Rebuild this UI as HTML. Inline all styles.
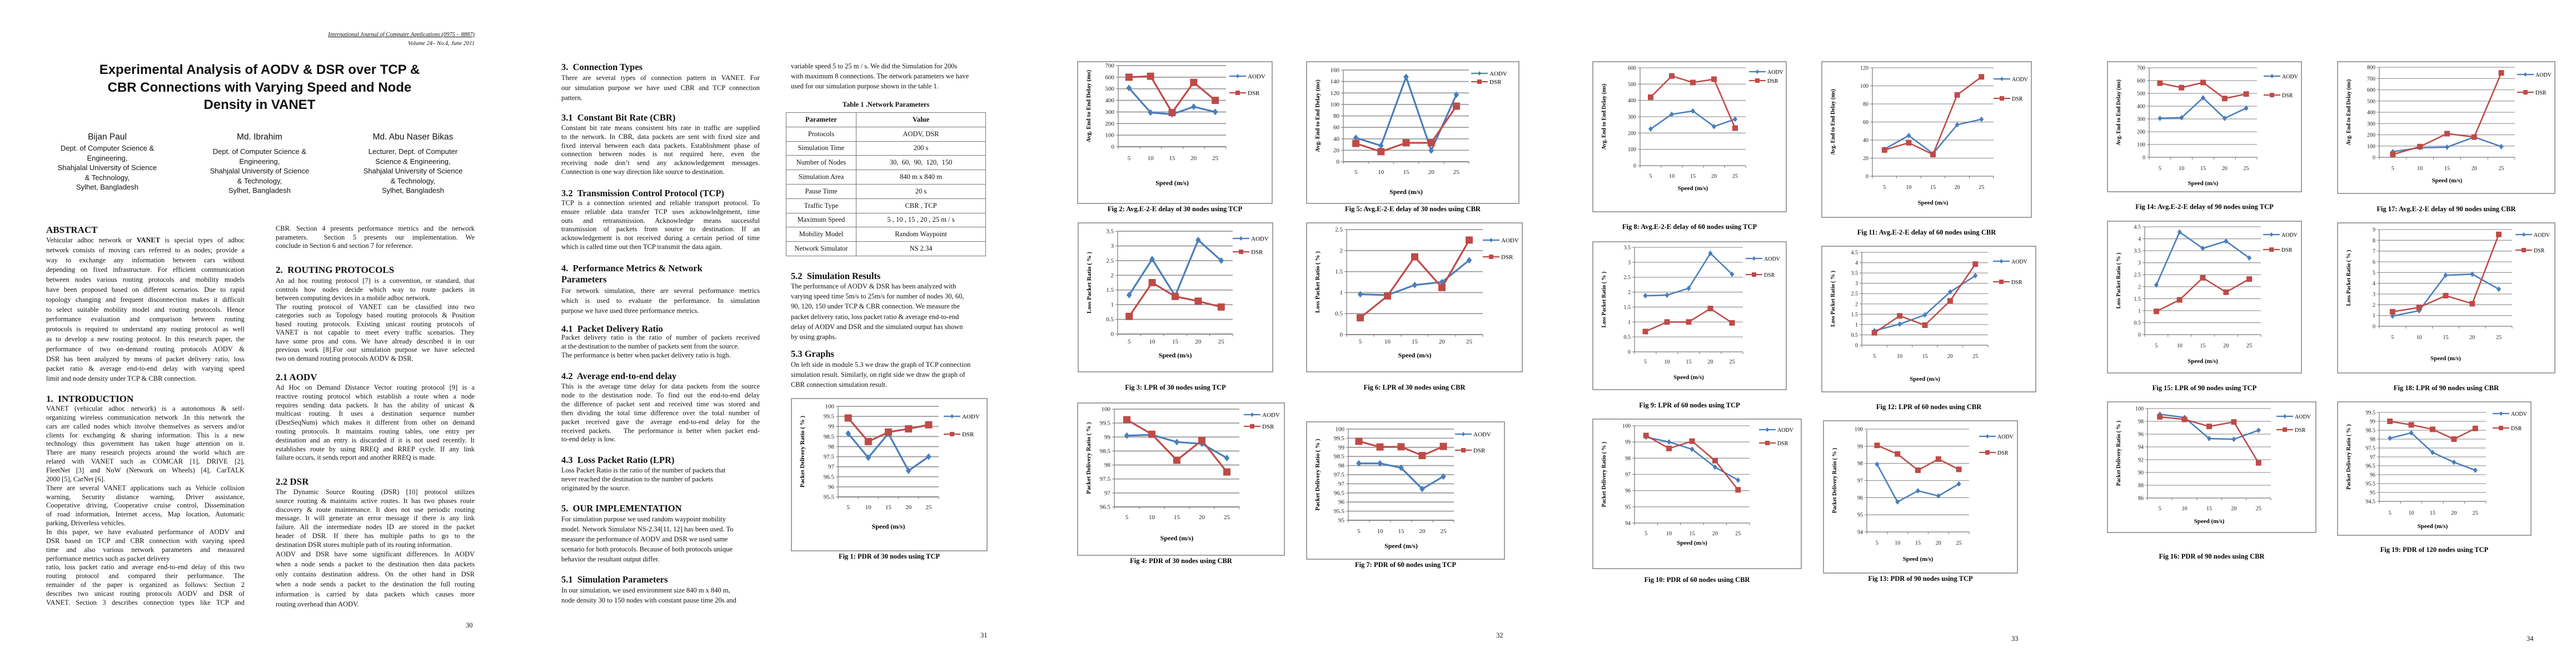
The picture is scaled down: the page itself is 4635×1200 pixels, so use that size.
<!DOCTYPE html>
<html><head><meta charset="utf-8">
<style>
body{margin:0;width:4635px;height:1200px;background:#fff;position:relative;overflow:hidden;font-family:"Liberation Serif",serif;color:#111}
.a{position:absolute;white-space:nowrap}
.blk{position:absolute;font-size:12.5px;white-space:nowrap}
.blk div{text-align:justify;text-align-last:justify;overflow:visible}
.blk div.l{text-align-last:left}
.h{position:absolute;white-space:nowrap;font-weight:bold;font-size:16.5px;line-height:20px}
.sans{font-family:"Liberation Sans",sans-serif}
.ttl{position:absolute;left:87px;width:760px;text-align:center;font:bold 24px "Liberation Sans",sans-serif;line-height:31.5px}
.auth{position:absolute;width:280px;text-align:center;font-family:"Liberation Sans",sans-serif;font-size:13px;line-height:17.6px}
.auth .n{font-size:15.5px;line-height:22px}
table.np{border-collapse:collapse;font-size:12.5px}
table.np td{border:1.2px solid #777;text-align:center;height:24.8px;padding:0}
</style></head>
<body>
<!-- PAGE 1 -->
<div class="a" style="left:480px;top:55px;width:374px;text-align:right;font:italic 10.5px 'Liberation Serif',serif;line-height:16px"><span style="text-decoration:underline">International Journal of Computer Applications (0975 – 8887)</span><br>Volume 24– No.4, June 2011</div>
<div class="ttl" style="top:110px">Experimental Analysis of AODV &amp; DSR over TCP &amp;<br>CBR Connections with Varying Speed and Node<br>Density in VANET</div>
<div class="auth" style="left:53px;top:236px"><div class="n">Bijan Paul</div>Dept. of Computer Science &amp;<br>Engineering,<br>Shahjalal University of Science<br>&amp; Technology,<br>Sylhet, Bangladesh</div>
<div class="auth" style="left:327px;top:236px"><div class="n" style="margin-bottom:6px">Md. Ibrahim</div>Dept. of Computer Science &amp;<br>Engineering,<br>Shahjalal University of Science<br>&amp; Technology,<br>Sylhet, Bangladesh</div>
<div class="auth" style="left:603px;top:236px"><div class="n" style="margin-bottom:6px">Md. Abu Naser Bikas</div>Lecturer, Dept. of Computer<br>Science &amp; Engineering,<br>Shahjalal University of Science<br>&amp; Technology,<br>Sylhet, Bangladesh</div>

<div class="h" style="left:83px;top:404px;font-size:17px">ABSTRACT</div>
<div class="blk" style="left:83px;top:424px;width:357px;line-height:17.8px">
<div>Vehicular adhoc network or <b>VANET</b> is special types of adhoc</div>
<div>network consists of moving cars referred to as nodes; provide a</div>
<div>way to exchange any information between cars without</div>
<div>depending on fixed infrastructure. For efficient communication</div>
<div>between nodes various routing protocols and mobility models</div>
<div>have been proposed based on different scenarios. Due to rapid</div>
<div>topology changing and frequent disconnection makes it difficult</div>
<div>to select suitable mobility model and routing protocols. Hence</div>
<div>performance evaluation and comparison between routing</div>
<div>protocols is required to understand any routing protocol as well</div>
<div>as to develop a new routing protocol. In this research paper, the</div>
<div>performance of two on-demand routing protocols AODV &amp;</div>
<div>DSR has been analyzed by means of packet delivery ratio, loss</div>
<div>packet ratio &amp; average end-to-end delay with varying speed</div>
<div class="l">limit and node density under TCP &amp; CBR connection.</div>
</div>
<div class="h" style="left:83px;top:708px;font-size:17px">1.&nbsp; INTRODUCTION</div>
<div class="blk" style="left:83px;top:728px;width:357px;line-height:15.86px">
<div>VANET (vehicular adhoc network) is a autonomous &amp; self-</div>
<div>organizing wireless communication network .In this network the</div>
<div>cars are called nodes which involve themselves as servers and/or</div>
<div>clients for exchanging &amp; sharing information. This is a new</div>
<div>technology thus government has taken huge attention on it.</div>
<div>There are many research projects around the world which are</div>
<div>related with VANET such as COMCAR [1], DRIVE [2],</div>
<div>FleetNet [3] and NoW (Network on Wheels) [4], CarTALK</div>
<div class="l">2000 [5], CarNet [6].</div>
<div>There are several VANET applications such as Vehicle collision</div>
<div>warning, Security distance warning, Driver assistance,</div>
<div>Cooperative driving, Cooperative cruise control, Dissemination</div>
<div>of road information, Internet access, Map location, Automatic</div>
<div class="l">parking, Driverless vehicles.</div>
<div>In this paper, we have evaluated performance of AODV and</div>
<div>DSR based on TCP and CBR connection with varying speed</div>
<div>time and also various network parameters and measured</div>
<div class="l">performance metrics such as packet delivery</div>
<div>ratio, loss packet ratio and average end-to-end delay of this two</div>
<div>routing protocol and compared their performance. The</div>
<div>remainder of the paper is organized as follows: Section 2</div>
<div>describes two unicast routing protocols AODV and DSR of</div>
<div>VANET. Section 3 describes connection types like TCP and</div>
</div>
<div class="blk" style="left:496px;top:404px;width:358px;line-height:15.7px">
<div>CBR. Section 4 presents performance metrics and the network</div>
<div>parameters.&nbsp; Section 5 presents our implementation. We</div>
<div class="l">conclude in Section 6 and section 7 for reference.</div>
</div>
<div class="h" style="left:496px;top:476px;font-size:17px">2.&nbsp; ROUTING PROTOCOLS</div>
<div class="blk" style="left:496px;top:498px;width:358px;line-height:15.5px">
<div>An ad hoc routing protocol [7] is a convention, or standard, that</div>
<div>controls how nodes decide which way to route packets in</div>
<div class="l">between computing devices in a mobile adhoc network.</div>
<div>The routing protocol of VANET can be classified into two</div>
<div>categories such as Topology based routing protocols &amp; Position</div>
<div>based routing protocols. Existing unicast routing protocols of</div>
<div>VANET is not capable to meet every traffic scenarios. They</div>
<div>have some pros and cons. We have already described it in our</div>
<div>previous work [8].For our simulation purpose we have selected</div>
<div class="l">two on demand routing protocols AODV &amp; DSR.</div>
</div>
<div class="h" style="left:496px;top:669px;font-size:17px">2.1 AODV</div>
<div class="blk" style="left:496px;top:690px;width:358px;line-height:15.8px">
<div>Ad Hoc on Demand Distance Vector routing protocol [9] is a</div>
<div>reactive routing protocol which establish a route when a node</div>
<div>requires sending data packets. It has the ability of unicast &amp;</div>
<div>multicast routing. It uses a destination sequence number</div>
<div>(DestSeqNum) which makes it different from other on demand</div>
<div>routing protocols. It maintains routing tables, one entry per</div>
<div>destination and an entry is discarded if it is not used recently. It</div>
<div>establishes route by using RREQ and RREP cycle. If any link</div>
<div class="l">failure occurs, it sends report and another RREQ is made.</div>
</div>
<div class="h" style="left:496px;top:857px;font-size:17px">2.2 DSR</div>
<div class="blk" style="left:496px;top:878px;width:358px;line-height:15.8px">
<div>The Dynamic Source Routing (DSR) [10] protocol utilizes</div>
<div>source routing &amp; maintains active routes. It has two phases route</div>
<div>discovery &amp; route maintenance. It does not use periodic routing</div>
<div>message. It will generate an error message if there is any link</div>
<div>failure. All the intermediate nodes ID are stored in the packet</div>
<div>header of DSR. If there has multiple paths to go to the</div>
<div class="l">destination DSR stores multiple path of its routing information.</div>
</div>
<div class="blk" style="left:496px;top:988px;width:358px;line-height:18.1px">
<div>AODV and DSR have some significant differences. In AODV</div>
<div>when a node sends a packet to the destination then data packets</div>
<div>only contains destination address. On the other hand in DSR</div>
<div>when a node sends a packet to the destination the full routing</div>
<div>information is carried by data packets which causes more</div>
<div class="l">routing overhead than AODV.</div>
</div>
<div class="a" style="left:838px;top:1118px;font-size:12.5px">30</div>

<!-- PAGE 2 -->
<div class="h" style="left:1010px;top:111px">3.&nbsp; Connection Types</div>
<div class="blk" style="left:1010px;top:131px;width:357px;line-height:18px">
<div>There are several types of connection pattern in VANET. For</div>
<div>our simulation purpose we have used CBR and TCP connection</div>
<div class="l">pattern.</div>
</div>
<div class="h" style="left:1010px;top:202px">3.1&nbsp; Constant Bit Rate (CBR)</div>
<div class="blk" style="left:1010px;top:223px;width:357px;line-height:15.8px">
<div>Constant bit rate means consistent bits rate in traffic are supplied</div>
<div>to the network. In CBR, data packets are sent with fixed size and</div>
<div>fixed interval between each data packets. Establishment phase of</div>
<div>connection between nodes is not required here, even the</div>
<div>receiving node don’t send any acknowledgement messages.</div>
<div class="l">Connection is one way direction like source to destination.</div>
</div>
<div class="h" style="left:1010px;top:338px">3.2&nbsp; Transmission Control Protocol (TCP)</div>
<div class="blk" style="left:1010px;top:358px;width:357px;line-height:15.8px">
<div>TCP is a connection oriented and reliable transport protocol. To</div>
<div>ensure reliable data transfer TCP uses acknowledgement, time</div>
<div>outs and retransmission. Acknowledge means successful</div>
<div>transmission of packets from source to destination. If an</div>
<div>acknowledgement is not received during a certain period of time</div>
<div class="l">which is called time out then TCP transmit the data again.</div>
</div>
<div class="h" style="left:1010px;top:473px">4.&nbsp; Performance Metrics &amp; Network<br>Parameters</div>
<div class="blk" style="left:1010px;top:514px;width:357px;line-height:18px">
<div>For network simulation, there are several performance metrics</div>
<div>which is used to evaluate the performance. In simulation</div>
<div class="l">purpose we have used three performance metrics.</div>
</div>
<div class="h" style="left:1010px;top:582px">4.1&nbsp; Packet Delivery Ratio</div>
<div class="blk" style="left:1010px;top:599px;width:357px;line-height:16px">
<div>Packet delivery ratio is the ratio of number of packets received</div>
<div class="l">at the destination to the number of packets sent from the source.</div>
<div class="l">The performance is better when packet delivery ratio is high.</div>
</div>
<div class="h" style="left:1010px;top:667px">4.2&nbsp; Average end-to-end delay</div>
<div class="blk" style="left:1010px;top:688px;width:357px;line-height:15.9px">
<div>This is the average time delay for data packets from the source</div>
<div>node to the destination node. To find out the end-to-end delay</div>
<div>the difference of packet sent and received time was stored and</div>
<div>then dividing the total time difference over the total number of</div>
<div>packet received gave the average end-to-end delay for the</div>
<div>received packets.&nbsp;&nbsp; The performance is better when packet end-</div>
<div class="l">to-end delay is low.</div>
</div>
<div class="h" style="left:1010px;top:818px">4.3&nbsp; Loss Packet Ratio (LPR)</div>
<div class="blk" style="left:1010px;top:838px;width:357px;line-height:16px">
<div class="l">Loss Packet Ratio is the ratio of the number of packets that</div>
<div class="l">never reached the destination to the number of packets</div>
<div class="l">originated by the source.</div>
</div>
<div class="h" style="left:1010px;top:905px">5.&nbsp; OUR IMPLEMENTATION</div>
<div class="blk" style="left:1010px;top:925px;width:357px;line-height:18px">
<div class="l">For simulation purpose we used random waypoint mobility</div>
<div class="l">model. Network Simulator NS-2.34[11, 12] has been used. To</div>
<div class="l">measure the performance of AODV and DSR we used same</div>
<div class="l">scenario for both protocols. Because of both protocols unique</div>
<div class="l">behavior the resultant output differ.</div>
</div>
<div class="h" style="left:1010px;top:1033px">5.1&nbsp; Simulation Parameters</div>
<div class="blk" style="left:1010px;top:1053px;width:357px;line-height:18px">
<div class="l">In our simulation, we used environment size 840 m x 840 m,</div>
<div class="l">node density 30 to 150 nodes with constant pause time 20s and</div>
</div>
<div class="blk" style="left:1423px;top:110px;width:358px;line-height:18px">
<div class="l">variable speed 5 to 25 m / s. We did the Simulation for 200s</div>
<div class="l">with maximum 8 connections. The network parameters we have</div>
<div class="l">used for our simulation purpose shown in the table 1.</div>
</div>
<div class="a" style="left:1414px;width:360px;top:181px;text-align:center;font-weight:bold;font-size:12.5px">Table 1 .Network Parameters</div>
<table class="np" style="position:absolute;left:1414px;top:202px;width:360px">
<tr><td style="width:125px;font-weight:bold">Parameter</td><td style="font-weight:bold">Value</td></tr>
<tr><td>Protocols</td><td>AODV, DSR</td></tr>
<tr><td>Simulation Time</td><td>200 s</td></tr>
<tr><td>Number of Nodes</td><td>30,&nbsp; 60,&nbsp; 90,&nbsp; 120,&nbsp; 150</td></tr>
<tr><td>Simulation Area</td><td>840 m x 840 m</td></tr>
<tr><td>Pause Time</td><td>20 s</td></tr>
<tr><td>Traffic Type</td><td>CBR , TCP</td></tr>
<tr><td>Maximum Speed</td><td>5 , 10 , 15 , 20 , 25 m / s</td></tr>
<tr><td>Mobility Model</td><td>Random Waypoint</td></tr>
<tr><td>Network Simulator</td><td>NS 2.34</td></tr>
</table>
<div class="h" style="left:1423px;top:487px">5.2&nbsp; Simulation Results</div>
<div class="blk" style="left:1423px;top:506px;width:358px;line-height:18.2px">
<div class="l">The performance of AODV &amp; DSR has been analyzed with</div>
<div class="l">varying speed time 5m/s to 25m/s for number of nodes 30, 60,</div>
<div class="l">90, 120, 150 under TCP &amp; CBR connection. We measure the</div>
<div class="l">packet delivery ratio, loss packet ratio &amp; average end-to-end</div>
<div class="l">delay of AODV and DSR and the simulated output has shown</div>
<div class="l">by using graphs.</div>
</div>
<div class="h" style="left:1423px;top:627px">5.3 Graphs</div>
<div class="blk" style="left:1423px;top:647px;width:358px;line-height:18px">
<div class="l">On left side in module 5.3 we draw the graph of TCP connection</div>
<div class="l">simulation result. Similarly, on right side we draw the graph of</div>
<div class="l">CBR connection simulation result.</div>
</div>
<div class="a" style="left:1764px;top:1136px;font-size:12.5px">31</div>
<div class="a" style="left:2692px;top:1136px;font-size:12.5px">32</div>
<div class="a" style="left:3619px;top:1142px;font-size:12.5px">33</div>
<div class="a" style="left:4546px;top:1142px;font-size:12.5px">34</div>

<svg id="charts" width="4635" height="1200" style="position:absolute;left:0;top:0" xmlns="http://www.w3.org/2000/svg"></svg>

<script>
// ---- chart data ----
const speeds = [5, 10, 15, 20, 25];
const fig1Aodv = [98.65, 97.45, 98.65, 96.8, 97.5];
const fig1Dsr = [99.42, 98.25, 98.72, 98.88, 99.08];
const fig1Range = [95.5, 100, 0.5];
const fig2Aodv = [507, 295, 280, 345, 300];
const fig2Dsr = [600, 608, 295, 555, 400];
const fig2Range = [0, 700, 100];
const fig3Aodv = [1.33, 2.55, 1.3, 3.2, 2.5];
const fig3Dsr = [0.6, 1.75, 1.28, 1.12, 0.92];
const fig3Range = [0, 3.5, 0.5];
const fig4Aodv = [99.05, 99.08, 98.82, 98.76, 98.25];
const fig4Dsr = [99.62, 99.1, 98.17, 98.88, 97.75];
const fig4Range = [96.5, 100, 0.5];
const fig5Aodv = [41.7, 28, 148, 19.5, 117];
const fig5Dsr = [32, 17.6, 33, 33, 97];
const fig5Range = [0, 160, 20];
const fig6Aodv = [0.96, 0.94, 1.18, 1.25, 1.77];
const fig6Dsr = [0.4, 0.92, 1.85, 1.12, 2.25];
const fig6Range = [0, 2.5, 0.5];
const fig7Aodv = [98.12, 98.12, 97.88, 96.72, 97.4];
const fig7Dsr = [99.33, 99.02, 99.03, 98.55, 99.05];
const fig7Range = [95, 100, 0.5];
const fig8Aodv = [225, 315, 335, 240, 285];
const fig8Dsr = [420, 550, 510, 530, 230];
const fig8Range = [0, 600, 100];
const fig9Aodv = [1.88, 1.9, 2.13, 3.3, 2.6];
const fig9Dsr = [0.68, 1.0, 1.0, 1.45, 0.97];
const fig9Range = [0, 3.5, 0.5];
const fig10Aodv = [99.3, 99.0, 98.55, 97.45, 96.65];
const fig10Dsr = [99.4, 98.6, 99.05, 97.85, 96.05];
const fig10Range = [94, 100, 1];
const fig11Aodv = [30, 45, 25, 57, 63];
const fig11Dsr = [29, 37, 24, 90, 110];
const fig11Range = [0, 120, 20];
const fig12Aodv = [0.7, 1.02, 1.47, 2.58, 3.37];
const fig12Dsr = [0.6, 1.42, 0.97, 2.15, 3.93];
const fig12Range = [0, 4.5, 0.5];
const fig13Aodv = [97.95, 95.75, 96.4, 96.1, 96.8];
const fig13Dsr = [99.05, 98.55, 97.6, 98.25, 97.65];
const fig13Range = [94, 100, 1];
const fig14Aodv = [305, 310, 465, 305, 385];
const fig14Dsr = [580, 545, 585, 460, 495];
const fig14Range = [0, 700, 100];
const fig15Aodv = [2.07, 4.28, 3.6, 3.9, 3.2];
const fig15Dsr = [0.97, 1.45, 2.37, 1.77, 2.32];
const fig15Range = [0, 4.5, 0.5];
const fig16Aodv = [99.1, 98.6, 95.3, 95.2, 96.6];
const fig16Dsr = [98.7, 98.3, 97.2, 97.9, 91.5];
const fig16Range = [86, 100, 2];
const fig17Aodv = [50, 85, 90, 180, 95];
const fig17Dsr = [25, 95, 210, 180, 750];
const fig17Range = [0, 800, 100];
const fig18Aodv = [0.95, 1.45, 4.75, 4.85, 3.45];
const fig18Dsr = [1.35, 1.75, 2.85, 2.1, 8.55];
const fig18Range = [0, 9, 1];
const fig19Aodv = [98.05, 98.35, 97.25, 96.7, 96.25];
const fig19Dsr = [99.0, 98.8, 98.55, 98.0, 98.6];
const fig19Range = [94.5, 99.5, 0.5];

const DELAY = "Avg. End to End Delay (ms)";
const LPR = "Loss Packet Ratio ( % )";
const PDR = "Packet Delivery Ratio ( % )";

// ---- layout (positions only) ----
const figs = [
 {n:1, box:[1424,717,352,274], plot:[1508,731,1689,894], leg:[1698,749,781], xl:912, xt:947, cap:1001, yt:PDR, caption:"Fig 1: PDR of 30 nodes using TCP", a:fig1Aodv, d:fig1Dsr, r:fig1Range, big:1},
 {n:2, box:[1939,111,350,255], plot:[2012,118,2206,264], leg:[2212,137,167], xl:284, xt:329, cap:376, yt:DELAY, caption:"Fig 2: Avg.E-2-E delay of 30 nodes using TCP", a:fig2Aodv, d:fig2Dsr, r:fig2Range, big:1},
 {n:5, box:[2351,111,382,255], plot:[2417,126,2643,291], leg:[2647,132,147], xl:309, xt:345, cap:376, yt:DELAY, caption:"Fig 5: Avg.E-2-E delay of 30 nodes using CBR", a:fig5Aodv, d:fig5Dsr, r:fig5Range, big:1},
 {n:3, box:[1940,401,350,268], plot:[2011,416,2218,601], leg:[2218,429,453], xl:614, xt:639, cap:697, yt:LPR, caption:"Fig 3: LPR of 30 nodes using TCP", a:fig3Aodv, d:fig3Dsr, r:fig3Range, big:1},
 {n:6, box:[2351,401,388,268], plot:[2423,413,2668,602], leg:[2668,432,462], xl:614, xt:639, cap:697, yt:LPR, caption:"Fig 6: LPR of 30 nodes using CBR", a:fig6Aodv, d:fig6Dsr, r:fig6Range, big:1},
 {n:4, box:[1939,725,372,274], plot:[2005,736,2230,912], leg:[2238,746,767], xl:930, xt:968, cap:1009, yt:PDR, caption:"Fig 4: PDR of 30 nodes using CBR", a:fig4Aodv, d:fig4Dsr, r:fig4Range, big:1},
 {n:7, box:[2351,759,356,247], plot:[2426,772,2616,936], leg:[2618,781,810], xl:955, xt:982, cap:1016, yt:PDR, caption:"Fig 7: PDR of 60 nodes using TCP", a:fig7Aodv, d:fig7Dsr, r:fig7Range, big:1},
 {n:8, box:[2866,111,348,270], plot:[2951,122,3141,298], leg:[3147,129,145], xl:316, xt:338, cap:408, yt:DELAY, caption:"Fig 8: Avg.E-2-E delay of 60 nodes using TCP", a:fig8Aodv, d:fig8Dsr, r:fig8Range, big:0},
 {n:11, box:[3278,111,377,280], plot:[3369,122,3587,317], leg:[3587,142,177], xl:336, xt:364, cap:418, yt:DELAY, caption:"Fig 11: Avg.E-2-E delay of 60 nodes using CBR", a:fig11Aodv, d:fig11Dsr, r:fig11Range, big:0},
 {n:9, box:[2866,435,348,266], plot:[2941,445,3136,633], leg:[3141,465,494], xl:650, xt:678, cap:729, yt:LPR, caption:"Fig 9: LPR of 60 nodes using TCP", a:fig9Aodv, d:fig9Dsr, r:fig9Range, big:0},
 {n:12, box:[3278,443,385,262], plot:[3350,454,3577,621], leg:[3586,470,507], xl:640, xt:681, cap:732, yt:LPR, caption:"Fig 12: LPR of 60 nodes using CBR", a:fig12Aodv, d:fig12Dsr, r:fig12Range, big:0},
 {n:10, box:[2866,754,375,269], plot:[2941,766,3148,941], leg:[3165,773,797], xl:959, xt:976, cap:1043, yt:PDR, caption:"Fig 10: PDR of 60 nodes using CBR", a:fig10Aodv, d:fig10Dsr, r:fig10Range, big:0},
 {n:13, box:[3281,757,349,274], plot:[3359,772,3543,957], leg:[3561,785,814], xl:976, xt:1005, cap:1041, yt:PDR, caption:"Fig 13: PDR of 90 nodes using TCP", a:fig13Aodv, d:fig13Dsr, r:fig13Range, big:0},
 {n:14, box:[3792,111,349,234], plot:[3867,122,4061,283], leg:[4073,137,171], xl:302, xt:329, cap:372, yt:DELAY, caption:"Fig 14: Avg.E-2-E delay of 90 nodes using TCP", a:fig14Aodv, d:fig14Dsr, r:fig14Range, big:0},
 {n:17, box:[4206,111,391,237], plot:[4281,121,4525,283], leg:[4529,134,166], xl:302, xt:324, cap:376, yt:DELAY, caption:"Fig 17: Avg.E-2-E delay of 90 nodes using CBR", a:fig17Aodv, d:fig17Dsr, r:fig17Range, big:0},
 {n:15, box:[3792,398,349,273], plot:[3859,408,4068,602], leg:[4072,422,449], xl:621, xt:649, cap:698, yt:LPR, caption:"Fig 15: LPR of 90 nodes using TCP", a:fig15Aodv, d:fig15Dsr, r:fig15Range, big:0},
 {n:18, box:[4206,401,391,270], plot:[4281,413,4520,587], leg:[4526,422,450], xl:606, xt:644, cap:698, yt:LPR, caption:"Fig 18: LPR of 90 nodes using CBR", a:fig18Aodv, d:fig18Dsr, r:fig18Range, big:0},
 {n:16, box:[3792,723,375,235], plot:[3864,735,4086,896], leg:[4096,749,773], xl:914, xt:937, cap:1001, yt:PDR, caption:"Fig 16: PDR of 90 nodes using CBR", a:fig16Aodv, d:fig16Dsr, r:fig16Range, big:0},
 {n:19, box:[4206,723,348,240], plot:[4281,742,4473,902], leg:[4485,744,770], xl:922, xt:946, cap:989, yt:PDR, caption:"Fig 19: PDR of 120 nodes using TCP", a:fig19Aodv, d:fig19Dsr, r:fig19Range, big:0}
];

const NS = "http://www.w3.org/2000/svg";
const svg = document.getElementById('charts');
function mk(tag, attrs, parent) {
  const e = document.createElementNS(NS, tag);
  for (const k in attrs) e.setAttribute(k, attrs[k]);
  (parent || svg).appendChild(e);
  return e;
}
function fmt(v) { return String(Math.round(v * 100) / 100); }
function diamond(g, x, y, s, col) {
  return mk('polygon', {points: `${x},${y-s} ${x+s*0.8},${y} ${x},${y+s} ${x-s*0.8},${y}`, fill: col}, g);
}
function square(g, x, y, s, col) {
  return mk('rect', {x: x-s, y: y-s, width: 2*s, height: 2*s, fill: col}, g);
}
const BLUE = '#4a7ebb', RED = '#be4b48';

figs.forEach(f => {
  const g = mk('g', {});
  
  
  const [bx, by, bw, bh] = f.box;
  const [px1, py1, px2, py2] = f.plot;
  const [ymin, ymax, ystep] = f.r;
  const yS = v => py2 - (v - ymin) / (ymax - ymin) * (py2 - py1);
  const band = (px2 - px1) / speeds.length;
  const xS = i => px1 + band * (i + 0.5);
  const fs = f.big ? 11 : 10;
  const box = mk('rect', {x: bx, y: by, width: bw, height: bh, fill: '#fff', stroke: '#8a8a8a', 'stroke-width': 1.6}, g);
  
  
  // gridlines + y ticks
  const nT = Math.round((ymax - ymin) / ystep);
  for (let k = 0; k <= nT; k++) {
    const v = ymin + k * ystep, y = yS(v);
    const gl = mk('line', {x1: px1, x2: px2, y1: y, y2: y, stroke: k === 0 ? '#777' : '#9c9c9c', 'stroke-width': f.big ? 1.8 : 1.3}, g);
    
    
    mk('line', {x1: px1 - 4, x2: px1, y1: y, y2: y, stroke: '#777', 'stroke-width': 1}, g);
    const t = mk('text', {x: px1 - 7, y: y + 3.5, 'text-anchor': 'end', 'font-size': fs, 'font-family': 'Liberation Serif, serif', fill: '#222'}, g);
    t.textContent = fmt(v);
    
    
  }
  mk('line', {x1: px1, x2: px1, y1: py1, y2: py2, stroke: '#777', 'stroke-width': 1.2}, g);
  for (let i = 0; i <= speeds.length; i++) {
    mk('line', {x1: px1 + band * i, x2: px1 + band * i, y1: py2, y2: py2 + 4, stroke: '#777', 'stroke-width': 1}, g);
  }
  speeds.forEach((s, i) => {
    const t = mk('text', {x: xS(i), y: f.xl + 4, 'text-anchor': 'middle', 'font-size': fs, 'font-family': 'Liberation Serif, serif', fill: '#222'}, g);
    t.textContent = s;
    
    
  });
  const xt = mk('text', {x: (px1 + px2) / 2, y: f.xt + 4, 'text-anchor': 'middle', 'font-size': fs + 1, 'font-weight': 'bold', 'font-family': 'Liberation Serif, serif'}, g);
  xt.textContent = 'Speed (m/s)';
  
  
  const ycx = bx + 23, ycy = (py1 + py2) / 2;
  const yt = mk('text', {x: ycx, y: ycy, 'text-anchor': 'middle', 'font-size': fs, 'font-weight': 'bold', 'font-family': 'Liberation Serif, serif', transform: `rotate(-90 ${ycx} ${ycy})`}, g);
  yt.textContent = f.yt;
  
  
  // series
  const lw = f.big ? 3.2 : 2.6, ds = f.big ? 6 : 5, ss = f.big ? 6.5 : 5;
  const lineA = mk('polyline', {points: f.a.map((v, i) => xS(i) + ',' + yS(v)).join(' '), fill: 'none', stroke: BLUE, 'stroke-width': lw}, g);
  
  
  const lineD = mk('polyline', {points: f.d.map((v, i) => xS(i) + ',' + yS(v)).join(' '), fill: 'none', stroke: RED, 'stroke-width': lw}, g);
  
  
  f.a.forEach((v, i) => {
    const m = diamond(g, xS(i), yS(v), ds, BLUE);
    
    
  });
  f.d.forEach((v, i) => {
    const m = square(g, xS(i), yS(v), ss, RED);
    
    
  });
  // legend
  const [lx, la, ld] = f.leg;
  const lg = mk('g', {}, g);
  
  
  mk('line', {x1: lx, x2: lx + 30, y1: la, y2: la, stroke: BLUE, 'stroke-width': 2.2}, lg);
  diamond(lg, lx + 15, la, 4, BLUE);
  mk('line', {x1: lx, x2: lx + 30, y1: ld, y2: ld, stroke: RED, 'stroke-width': 2.2}, lg);
  square(lg, lx + 15, ld, 4, RED);
  const ta = mk('text', {x: lx + 33, y: la + 4, 'font-size': fs, 'font-family': 'Liberation Serif, serif'}, lg);
  ta.textContent = 'AODV';
  
  
  const td = mk('text', {x: lx + 33, y: ld + 4, 'font-size': fs, 'font-family': 'Liberation Serif, serif'}, lg);
  td.textContent = 'DSR';
  
  
  // caption
  const cap = mk('text', {x: bx + bw / 2, y: f.cap + 4, 'text-anchor': 'middle', 'font-size': 12.5, 'font-weight': 'bold', 'font-family': 'Liberation Serif, serif'}, g);
  cap.textContent = f.caption;
  
  
});
</script>
</body></html>
